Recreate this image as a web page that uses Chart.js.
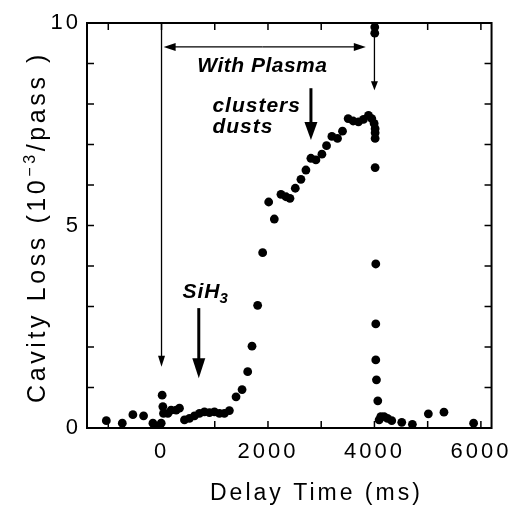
<!DOCTYPE html>
<html>
<head>
<meta charset="utf-8">
<script src="https://cdn.jsdelivr.net/npm/chart.js@4.4.0/dist/chart.umd.min.js"></script>
<style>
  html, body { margin: 0; padding: 0; background: #fff; }
  canvas { display: block; }
</style>
</head>
<body>
<canvas id="graficoCavidade" width="517" height="506"></canvas>
<script>
// values: delay time (ms) and cavity loss (10^-3/pass)
var delayTime = [
  -1037, -737, -538, -337, -162, -100, -37, -6, 12, 25, 37, 119, 181, 275, 337,
  431, 525, 619, 712, 806, 900, 994, 1088, 1181, 1275, 1400, 1513, 1619, 1700,
  1806, 1900, 2013, 2119, 2244, 2338, 2413, 2513, 2619, 2713, 2806, 2900, 3013,
  3100, 3200, 3306, 3400, 3506, 3600, 3700, 3794, 3888, 3950, 3994, 4013, 4013,
  4013, 4006, 4006, 4013, 4025, 4025, 4025, 4038, 4063, 4088, 4119, 4181, 4244,
  4325, 4513, 4713, 5013, 5306, 5863
];
var cavityLoss = [
  0.18, 0.12, 0.33, 0.30, 0.12, 0.02, 0.0, 0.12, 0.81, 0.53, 0.36, 0.36, 0.44, 0.44, 0.49,
  0.20, 0.24, 0.30, 0.36, 0.40, 0.38, 0.40, 0.36, 0.36, 0.43, 0.77, 0.95, 1.39, 2.02,
  3.03, 4.33, 5.58, 5.16, 5.77, 5.71, 5.67, 5.92, 6.14, 6.37, 6.66, 6.62, 6.76,
  6.97, 7.20, 7.15, 7.33, 7.64, 7.58, 7.56, 7.62, 7.72, 7.64, 7.52, 7.39, 7.29,
  7.15, 9.90, 9.75, 6.43, 4.05, 2.57, 1.68, 1.19, 0.67, 0.20, 0.28, 0.28, 0.24,
  0.18, 0.14, 0.09, 0.35, 0.39, 0.12
];

var xTicks = [-1000, 0, 1000, 2000, 3000, 4000, 5000, 6000];
var xTickLabels = [0, 2000, 4000, 6000];
var yTicks = [0, 1, 2, 3, 4, 5, 6, 7, 8, 9, 10];
var yTickLabels = [0, 5, 10];
var xTitle = "Delay Time (ms)";
var yTitle = ["Cavity Loss (10", "\u22123", "/pass )"];
var notes = ["With Plasma", "clusters", "dusts", "SiH", "3"];

const FONTE = '"Liberation Sans", Arial, Helvetica, sans-serif';

function drawArrow(ctx, x1, y1, x2, y2, largura, cabeca, abertura) {
  const ang = Math.atan2(y2 - y1, x2 - x1);
  ctx.save();
  ctx.strokeStyle = "#000";
  ctx.fillStyle = "#000";
  ctx.lineWidth = largura;
  ctx.beginPath();
  ctx.moveTo(x1, y1);
  ctx.lineTo(x2 - Math.cos(ang) * cabeca * 0.8, y2 - Math.sin(ang) * cabeca * 0.8);
  ctx.stroke();
  ctx.translate(x2, y2);
  ctx.rotate(ang);
  ctx.beginPath();
  ctx.moveTo(0, 0);
  ctx.lineTo(-cabeca, abertura / 2);
  ctx.lineTo(-cabeca, -abertura / 2);
  ctx.closePath();
  ctx.fill();
  ctx.restore();
}

// wider spacing so the Arial-like text matches the scanned Helvetica
const espacamento = {
  id: "espacamento",
  beforeDraw(chart) {
    chart.ctx.letterSpacing = "3px";
  }
};

const moldura = {
  id: "moldura",
  afterDatasetsDraw(chart) {
    const ctx = chart.ctx;
    const a = chart.chartArea;
    const x = chart.scales.x;
    const y = chart.scales.y;
    ctx.save();

    // box
    ctx.strokeStyle = "#000";
    ctx.lineWidth = 2;
    ctx.strokeRect(a.left, a.top, a.right - a.left, a.bottom - a.top);

    // inward ticks on all four sides
    ctx.lineWidth = 1.5;
    ctx.beginPath();
    x.ticks.forEach((t) => {
      const px = x.getPixelForValue(t.value);
      ctx.moveTo(px, a.bottom); ctx.lineTo(px, a.bottom - 7);
      ctx.moveTo(px, a.top); ctx.lineTo(px, a.top + 7);
    });
    y.ticks.forEach((t) => {
      const py = y.getPixelForValue(t.value);
      ctx.moveTo(a.left, py); ctx.lineTo(a.left + 7, py);
      ctx.moveTo(a.right, py); ctx.lineTo(a.right - 7, py);
    });
    ctx.stroke();

    // thin arrows: plasma on / off and the span between
    drawArrow(ctx, x.getPixelForValue(0), a.top, x.getPixelForValue(0), y.getPixelForValue(1.51), 1.3, 11, 7);
    drawArrow(ctx, x.getPixelForValue(4000), a.top, x.getPixelForValue(4000), y.getPixelForValue(8.34), 1.3, 9, 7);
    const yp = y.getPixelForValue(9.41);
    drawArrow(ctx, x.getPixelForValue(1900), yp, x.getPixelForValue(40), yp, 1.3, 12, 8);
    drawArrow(ctx, x.getPixelForValue(1900), yp, x.getPixelForValue(3838), yp, 1.3, 12, 8);

    // thick arrows
    drawArrow(ctx, x.getPixelForValue(2807), y.getPixelForValue(8.39), x.getPixelForValue(2807), y.getPixelForValue(7.11), 3, 18, 13);
    drawArrow(ctx, x.getPixelForValue(700), y.getPixelForValue(2.96), x.getPixelForValue(700), y.getPixelForValue(1.23), 3, 20, 13);

    // annotation texts
    ctx.fillStyle = "#000";
    ctx.textBaseline = "alphabetic";
    ctx.font = "italic bold 21px " + FONTE;
    ctx.letterSpacing = "0.5px";
    ctx.textAlign = "center";
    ctx.fillText(notes[0], x.getPixelForValue(1894), y.getPixelForValue(8.78));
    ctx.textAlign = "left";
    ctx.letterSpacing = "1px";
    ctx.fillText(notes[1], x.getPixelForValue(956), y.getPixelForValue(7.80));
    ctx.fillText(notes[2], x.getPixelForValue(956), y.getPixelForValue(7.28));
    const sx = x.getPixelForValue(394);
    const sy = y.getPixelForValue(3.21);
    ctx.fillText(notes[3], sx, sy);
    const w = ctx.measureText(notes[3]).width;
    ctx.font = "italic bold 15px " + FONTE;
    ctx.fillText(notes[4], sx + w - 1, sy + 5);

    ctx.restore();
  },
  afterDraw(chart) {
    const ctx = chart.ctx;
    const a = chart.chartArea;
    ctx.save();
    ctx.fillStyle = "#000";
    ctx.textBaseline = "alphabetic";

    // x title, sits right of centre in the original
    ctx.font = "23px " + FONTE;
    ctx.letterSpacing = "3px";
    ctx.textAlign = "left";
    ctx.fillText(xTitle, 210, 500);

    // y title with superscript, drawn rotated
    ctx.letterSpacing = "3.6px";
    const fGrande = "25px " + FONTE;
    const fPequena = "16px " + FONTE;
    ctx.font = fGrande;
    const w1 = ctx.measureText(yTitle[0]).width;
    const w3 = ctx.measureText(yTitle[2]).width;
    ctx.font = fPequena;
    const w2 = ctx.measureText(yTitle[1]).width;
    const total = w1 + w2 + w3;
    ctx.translate(45, 227);
    ctx.rotate(-Math.PI / 2);
    let pos = -total / 2;
    ctx.font = fGrande;
    ctx.fillText(yTitle[0], pos, 0);
    pos += w1;
    ctx.font = fPequena;
    ctx.fillText(yTitle[1], pos, -10);
    pos += w2;
    ctx.font = fGrande;
    ctx.fillText(yTitle[2], pos, 0);
    ctx.restore();
  }
};

function plotarGrafico(idGrafico) {
  const pontos = delayTime.map((t, i) => ({ x: t, y: cavityLoss[i] }));
  const ctx = document.getElementById(idGrafico).getContext("2d");
  let myChart = new Chart(ctx, {
    type: "scatter",
    data: {
      datasets: [
        {
          data: pontos,
          backgroundColor: "#000",
          borderWidth: 0,
          pointRadius: 4.4,
        },
      ],
    },
    options: {
      responsive: false,
      animation: false,
      layout: { padding: { top: 23, right: 24, left: 0, bottom: 0 } },
      plugins: {
        legend: { display: false },
        tooltip: { enabled: false },
      },
      scales: {
        x: {
          type: "linear",
          min: -1400,
          max: 6200,
          grid: { display: false, drawTicks: false },
          border: { display: false },
          afterBuildTicks: (s) => { s.ticks = xTicks.map((v) => ({ value: v })); },
          ticks: {
            autoSkip: false,
            maxRotation: 0,
            color: "#000",
            padding: 11,
            font: { family: FONTE, size: 22 },
            callback: (v) => (xTickLabels.includes(v) ? String(v) : ""),
          },
          afterFit: (s) => { s.height = 78; },
        },
        y: {
          min: 0,
          max: 10,
          grid: { display: false, drawTicks: false },
          border: { display: false },
          afterBuildTicks: (s) => { s.ticks = yTicks.map((v) => ({ value: v })); },
          ticks: {
            color: "#000",
            padding: 6,
            font: { family: FONTE, size: 22 },
            callback: (v) => (yTickLabels.includes(v) ? String(v) : ""),
          },
          afterFit: (s) => { s.width = 87; },
        },
      },
    },
    plugins: [espacamento, moldura],
  });
}

plotarGrafico("graficoCavidade");
</script>
</body>
</html>
